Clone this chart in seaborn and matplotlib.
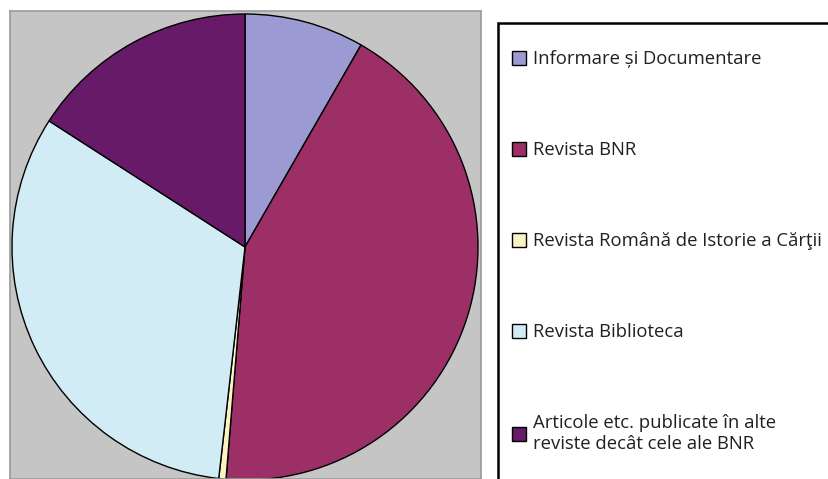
import matplotlib.pyplot as plt
import seaborn as sns
from matplotlib.patches import Rectangle

# shares of publications (percent), read clockwise from 12 o'clock
categories = [
    "Informare și Documentare",
    "Revista BNR",
    "Revista Română de Istorie a Cărţii",
    "Revista Biblioteca",
    "Articole etc. publicate în alte\nreviste decât cele ale BNR",
]
shares = [8.3, 43.0, 0.5, 32.3, 15.9]
colors = ["#9c9ad2", "#9b2f66", "#fbf4c2", "#d2ecf6", "#661a68"]

sns.set_theme(style="white")
plt.rcParams["font.family"] = ["Open Sans", "DejaVu Sans"]

fig = plt.figure(figsize=(8.29, 4.79), dpi=100)
W, H = 829, 479

# plot area (gray), pixel based layout
left, top, right = 10, 11, 481
ax = fig.add_axes([left / W, 0, (right - left) / W, (H - top) / H])
ax.set_facecolor("#c6c5c5")

cx, cy, r = 245, 247, 233
wedges, _ = ax.pie(
    shares,
    colors=colors,
    startangle=90,
    counterclock=False,
    radius=r,
    center=(0, 0),
    frame=True,
    wedgeprops=dict(edgecolor="black", linewidth=1.0),
)
ax.set_aspect("auto")
ax.set_xlim(left - cx, right - cx)
ax.set_ylim(cy - H, cy - top)
ax.set_xticks([])
ax.set_yticks([])
for s in ax.spines.values():
    s.set_color("#9a9a9a")
    s.set_linewidth(1.2)

# legend box
box = Rectangle((498 / W, -0.05), 0.5, (H - 23) / H + 0.05, transform=fig.transFigure,
                facecolor="white", edgecolor="black", linewidth=1.8)
fig.patches.append(box)

leg = fig.legend(
    wedges,
    categories,
    loc="upper left",
    bbox_to_anchor=(503 / W, (H - 41) / H),
    frameon=False,
    fontsize=13.3,
    handlelength=0.75,
    handleheight=0.8,
    handletextpad=0.35,
    labelspacing=3.95,
    borderpad=0,
)
for t in leg.get_texts():
    t.set_color("#231f20")
    t.set_linespacing(1.2)
for h in leg.legend_handles:
    h.set_linewidth(1.0)

fig.savefig("out.png", dpi=100)
